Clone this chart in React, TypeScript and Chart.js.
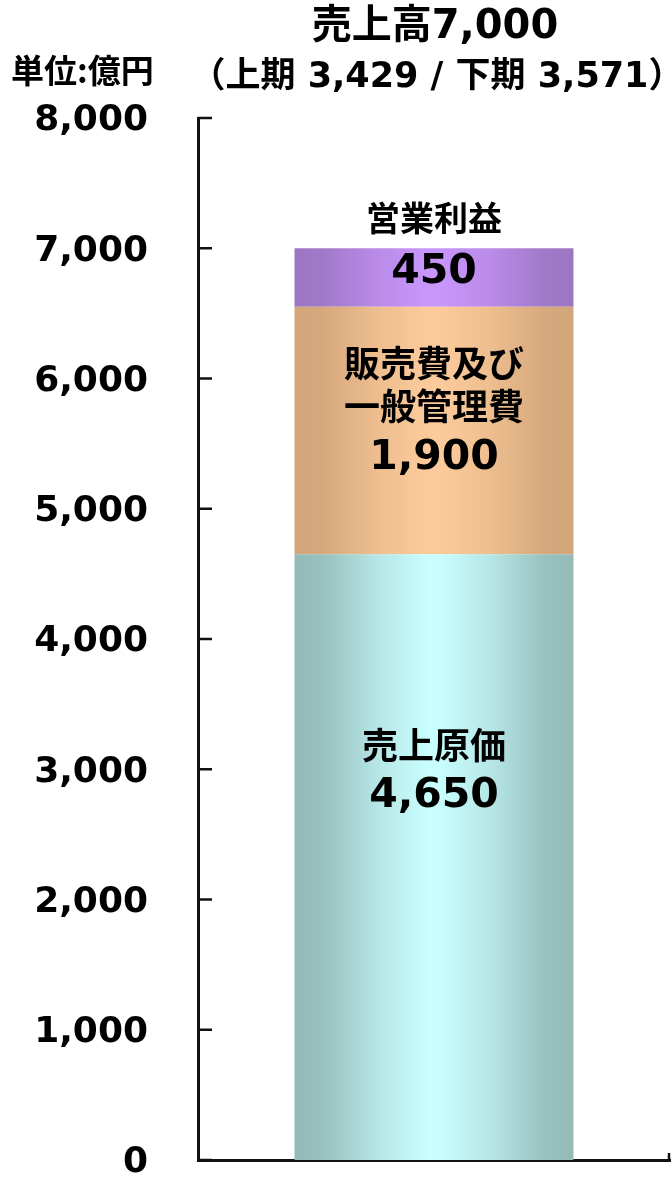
import { useEffect, useRef } from "react";
import { Chart, registerables } from "chart.js";

Chart.register(...registerables);

// ---- data ----
const categories = ["売上高"];
const costOfSales = [4650];
const sgaExpenses = [1900];
const operatingIncome = [450];
const segmentLabels = [["売上原価"], ["販売費及び", "一般管理費"], ["営業利益"]];
const yTicks = [0, 1000, 2000, 3000, 4000, 5000, 6000, 7000, 8000];
const titleMain = "売上高7,000";
const titleSub = "（上期 3,429 / 下期 3,571）";
const unitLabel = "単位:億円";

// ---- style ----
const W = 671;
const H = 1177;
const BAR_PCT = 0.591;
const NUM_FONT = '"DejaVu Sans", "Noto Sans CJK JP", sans-serif';
const CJK_FONT = '"Noto Sans CJK JP", "DejaVu Sans", sans-serif';
const colors = [
  { dark: "#94bbb8", light: "#c8fefe" },
  { dark: "#d2a57a", light: "#fdcb9b" },
  { dark: "#9d76c3", light: "#c996fc" },
];

function mix(a: string, b: string, t: number) {
  const pa = [1, 3, 5].map((i) => parseInt(a.slice(i, i + 2), 16));
  const pb = [1, 3, 5].map((i) => parseInt(b.slice(i, i + 2), 16));
  const r = pa.map((v, i) => Math.round(v + (pb[i] - v) * t));
  return `rgb(${r[0]},${r[1]},${r[2]})`;
}

function gradientFor(idx: number) {
  return (c: any) => {
    const chart = c.chart;
    const { dark, light } = colors[idx];
    if (!chart.chartArea) return light;
    const xs = chart.scales.x;
    const cx = xs.getPixelForValue(c.dataIndex ?? 0);
    const w = (xs.width / Math.max(1, categories.length)) * BAR_PCT;
    const g = chart.ctx.createLinearGradient(cx - w / 2, 0, cx + w / 2, 0);
    g.addColorStop(0, dark);
    g.addColorStop(0.1, mix(dark, light, 0.08));
    g.addColorStop(0.3, mix(dark, light, 0.65));
    g.addColorStop(0.48, light);
    g.addColorStop(0.52, light);
    g.addColorStop(0.7, mix(dark, light, 0.65));
    g.addColorStop(0.9, mix(dark, light, 0.08));
    g.addColorStop(1, dark);
    return g;
  };
}

const fmt = (v: number) => v.toLocaleString("en-US");

// offsets of text centers relative to the top of each segment
const labelLayout = [
  { lines: [191], value: 242, nameSize: 36 },
  { lines: [56, 99], value: 151, nameSize: 36 },
  { lines: [-30], value: 24, nameSize: 34 },
];

const decorPlugin = {
  id: "decor",
  afterDraw(chart: any) {
    const ctx = chart.ctx;
    const area = chart.chartArea;
    const ys = chart.scales.y;
    ctx.save();
    // inner y ticks
    ctx.strokeStyle = "#111";
    ctx.lineWidth = 2.5;
    ys.ticks.forEach((_t: any, i: number) => {
      const y = ys.getPixelForTick(i);
      ctx.beginPath();
      ctx.moveTo(area.left, y);
      ctx.lineTo(area.left + 14, y);
      ctx.stroke();
    });
    // x-axis end tick
    ctx.beginPath();
    ctx.moveTo(area.right - 1, area.bottom);
    ctx.lineTo(area.right - 1, area.bottom - 7);
    ctx.stroke();

    // titles
    ctx.fillStyle = "#000";
    ctx.textBaseline = "middle";
    ctx.textAlign = "center";
    ctx.font = `bold 40px ${NUM_FONT}`;
    ctx.fillText(titleMain, 435, 28);
    ctx.font = `bold 35px ${NUM_FONT}`;
    ctx.fillText(titleSub, 437, 78);
    ctx.textAlign = "left";
    ctx.font = `bold 33px ${CJK_FONT}`;
    ctx.fillText(unitLabel, 11, 70);

    // segment labels
    ctx.textAlign = "center";
    chart.data.datasets.forEach((ds: any, di: number) => {
      const meta = chart.getDatasetMeta(di);
      const el = meta.data[0];
      if (!el) return;
      const { x, y } = el.getProps(["x", "y"], true);
      const lay = labelLayout[di];
      ctx.font = `bold ${lay.nameSize}px ${CJK_FONT}`;
      segmentLabels[di].forEach((t, li) => {
        ctx.fillText(t, x, y + lay.lines[li]);
      });
      ctx.font = `bold 41px ${NUM_FONT}`;
      ctx.fillText(fmt(ds.data[0]), x, y + lay.value);
    });
    ctx.restore();
  },
};

export default function App() {
  const ref = useRef<HTMLCanvasElement | null>(null);
  useEffect(() => {
    document.body.style.margin = "0";
    if (!ref.current) return;
    const chart = new Chart(ref.current, {
      type: "bar",
      data: {
        labels: categories,
        datasets: [
          { label: "売上原価", data: costOfSales, backgroundColor: gradientFor(0) as any },
          { label: "販売費及び一般管理費", data: sgaExpenses, backgroundColor: gradientFor(1) as any },
          { label: "営業利益", data: operatingIncome, backgroundColor: gradientFor(2) as any },
        ],
      },
      options: {
        animation: false,
        responsive: true,
        maintainAspectRatio: false,
        layout: { padding: { top: 118, bottom: 17, right: 1, left: 0 } },
        datasets: { bar: { categoryPercentage: 1, barPercentage: BAR_PCT, borderWidth: 0 } },
        plugins: { legend: { display: false }, tooltip: { enabled: false }, title: { display: false } },
        scales: {
          x: {
            stacked: true,
            grid: { display: false },
            border: { display: true, color: "#111", width: 3 },
            ticks: { display: false },
            afterFit: (s: any) => {
              s.height = 0;
              s.paddingLeft = 0;
              s.paddingRight = 0;
            },
          },
          y: {
            stacked: true,
            min: 0,
            max: 8000,
            grid: { display: false, drawTicks: false },
            border: { display: true, color: "#111", width: 3 },
            afterBuildTicks: (s: any) => {
              s.ticks = yTicks.map((v) => ({ value: v }));
            },
            afterFit: (s: any) => {
              s.width = 198;
              s.paddingTop = 0;
              s.paddingBottom = 0;
            },
            ticks: {
              padding: 50,
              labelOffset: 3,
              color: "#000",
              font: { family: NUM_FONT, size: 36, weight: "bold" },
              callback: (v: any) => fmt(Number(v)),
            },
          },
        },
      },
      plugins: [decorPlugin],
    });
    return () => chart.destroy();
  }, []);
  return (
    <div style={{ position: "absolute", left: 0, top: 0, width: W, height: H, background: "#fff" }}>
      <canvas ref={ref} />
    </div>
  );
}
